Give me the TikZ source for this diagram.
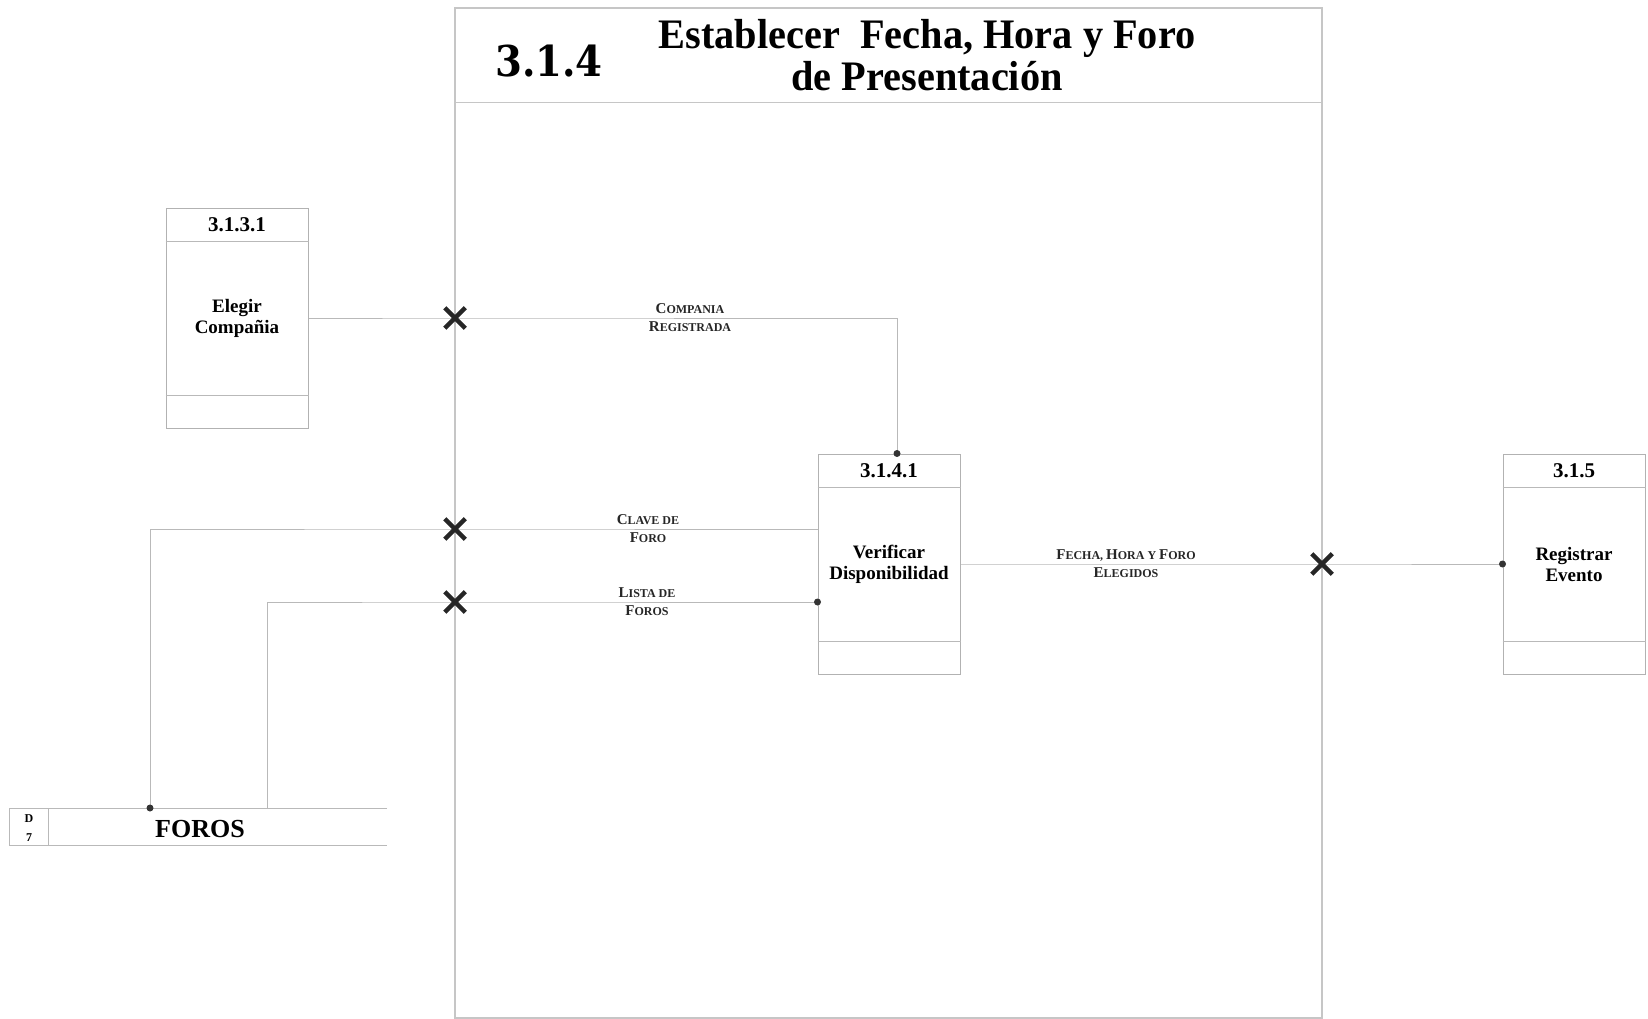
\documentclass[tikz,border=0pt]{standalone}
\usepackage{fontspec}
\setmainfont{Liberation Serif}
\newfontfamily\numfont{DejaVu Serif}
\usetikzlibrary{calc,shapes.misc,backgrounds}
\newcommand{\mysc}[2]{{\fontsize{15}{18}\selectfont #1}{\fontsize{12}{18}\selectfont #2}}
\begin{document}
\begin{tikzpicture}[x=1pt,y=-1pt,
  ln/.style={draw=gray!55,line width=1pt},
  frm/.style={draw=gray!45,line width=1.2pt},
  proc/.style={draw=gray!60,line width=1pt,minimum width=142pt,minimum height=220pt,inner sep=0pt,align=center,font=\bfseries\fontsize{19}{21}\selectfont},
  ptitle/.style={font=\bfseries\fontsize{21}{21}\selectfont,inner sep=0pt},
  flab/.style={align=center,inner sep=0pt,font=\bfseries\fontsize{12}{18}\selectfont,text=black!85},
  xmark/.style={cross out,draw=black!85,line width=4.5pt,minimum size=16pt,inner sep=0pt},
  dot/.style={circle,fill=black!80,inner sep=0pt,minimum size=7pt}
]
\useasboundingbox (0,0) rectangle (1648,1019);

% frame
\node[frm,minimum width=867pt,minimum height=1010pt,inner sep=0pt] (F) at (888.5,513) {};
\draw[frm] ($(F.north west)+(0,95)$) -- ($(F.north east)+(0,95)$);
\node[font=\numfont\bfseries\fontsize{42.5}{42.5}\selectfont,inner sep=0pt] (num) at (549,61) {\scalebox{0.91}[1]{3.1.4}};
\node[font=\bfseries\fontsize{42}{42}\selectfont,inner sep=0pt,anchor=base] (t1) at (927,49) {\scalebox{0.96}[1]{Establecer\ \ Fecha, Hora y Foro}};
\node[font=\bfseries\fontsize{42}{42}\selectfont,inner sep=0pt,anchor=base] (t2) at (927,91) {\scalebox{0.96}[1]{de Presentación}};

% process boxes
\node[proc] (A) at (237,318) {Elegir\\Compañia};
\node[proc] (B) at (889,564) {Verificar\\Disponibilidad};
\node[proc] (C) at (1574,564) {Registrar\\Evento};
\foreach \b in {A,B,C} {
  \draw[ln] ($(\b.north west)+(0,34)$) -- ($(\b.north east)+(0,34)$);
  \draw[ln] ($(\b.south west)+(0,-33)$) -- ($(\b.south east)+(0,-33)$);
}
\node[ptitle] (At) at ($(A.north)+(0,17)$) {3.1.3.1};
\node[ptitle] (Bt) at ($(B.north)+(0,17)$) {3.1.4.1};
\node[ptitle] (Ct) at ($(C.north)+(0,17)$) {3.1.5};

% data store
\draw[ln] (387,808) -- (9,808) -- (9,845) -- (387,845);
\draw[ln] (48,808) -- (48,845);
\node[font=\bfseries\fontsize{12}{19}\selectfont,inner sep=0pt,align=center] (sid) at (29,828) {D\\7};
\node[font=\bfseries\fontsize{26}{26}\selectfont,inner sep=0pt] (sname) at (200,829) {FOROS};
\coordinate (s1) at (150,808);
\coordinate (s2) at (267,808);

% crossings
\node[xmark] (x1) at (455,318) {};
\node[xmark] (x2) at (455,529) {};
\node[xmark] (x3) at (455,602) {};
\node[xmark] (x4) at (1322,564) {};

\begin{scope}[on background layer]
\draw[ln] (A.east) -- (x1.center) -| ([xshift=8pt]B.north);
\draw[ln] ([yshift=35pt]B.west) -- (x2.center) -| (s1);
\draw[ln] (s2) |- (x3.center) -- ([yshift=-38pt]B.west);
\draw[ln] (B.east) -- (x4.center) -- (C.west);
\end{scope}

\node[dot] (d1) at ([xshift=8pt]B.north) {};
\node[dot] (d2) at (s1) {};
\node[dot] (d3) at ([yshift=-38pt]B.west) {};
\node[dot] (d4) at (C.west) {};

% flow labels
\node[flab] (lcr) at (690,318) {\mysc{C}{OMPANIA}\\\mysc{R}{EGISTRADA}};
\node[flab] (lcf) at (648,529) {\mysc{C}{LAVE DE}\\\mysc{F}{ORO}};
\node[flab] (llf) at (647,602) {\mysc{L}{ISTA DE}\\\mysc{F}{OROS}};
\node[flab] (lfe) at (1126,564) {\mysc{F}{ECHA,} \mysc{H}{ORA Y} \mysc{F}{ORO}\\\mysc{E}{LEGIDOS}};
\end{tikzpicture}
\end{document}
